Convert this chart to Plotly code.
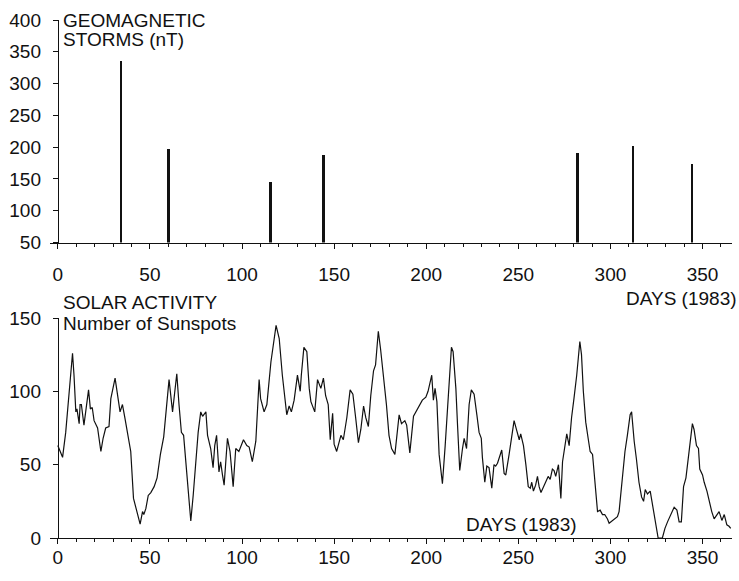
import plotly.graph_objects as go

# ---------------- data ----------------
storm_days = [34, 60, 115, 144, 282, 312, 344]
storm_nt = [335, 197, 145, 187, 191, 202, 174]

sun_days = [0, 2.6, 4.3, 6.2, 8.0, 8.8, 9.8, 10.4, 11.6, 12.1, 12.8, 14.2, 15.2, 16.7, 17.7,
            18.7, 19.7, 21.6, 23.4, 24.6, 26.0, 27.8, 28.8, 31.1, 33.8, 35.1, 36.4, 38.2,
            39.6, 41.1, 42.8, 44.7, 46.0, 46.7, 47.8, 49.1, 50.5, 52.3, 53.9, 55.7, 57.5,
            58.7, 60.4, 62.3, 64.6, 65.8, 67.1, 68.3, 69.5, 70.7, 72.2, 73.5, 74.9, 76.2,
            77.6, 78.6, 80.4, 81.3, 83.0, 84.3, 85.2, 86.2, 87.5, 88.4, 89.4, 90.3, 92.1,
            93.5, 95.2, 96.6, 98.3, 100.8, 102.6, 103.9, 105.6, 107.5, 109.3, 110.1, 112.0,
            113.5, 115.7, 118.5, 120.2, 121.9, 124.3, 125.6, 126.8, 128.3, 130.1, 131.6,
            132.2, 133.6, 135.2, 136.5, 137.4, 139.5, 141.0, 142.8, 144.2, 145.4, 146.8,
            147.9, 149.2, 150.0, 151.4, 153.7, 155.0, 156.9, 158.7, 160.2, 161.7, 163.2,
            164.5, 166.0, 167.2, 168.6, 169.9, 171.4, 172.5, 174.0, 175.2, 176.9, 178.4,
            179.8, 181.2, 183.0, 184.4, 185.3, 186.6, 188.4, 189.4, 191.1, 193.1, 196.1,
            197.9, 199.8, 201.0, 203.0, 203.9, 204.8, 205.8, 207.0, 208.8, 210.3, 211.6,
            213.7, 214.6, 216.1, 217.0, 218.2, 219.7, 220.6, 221.9, 223.3, 224.5, 226.0,
            227.5, 228.7, 229.9, 230.5, 231.8, 232.9, 234.1, 235.6, 236.8, 237.7, 238.7,
            241.0, 242.3, 243.2, 245.0, 246.2, 247.7, 249.2, 250.5, 251.3, 252.8, 254.1,
            255.4, 256.5, 257.3, 258.2, 259.4, 260.4, 261.3, 262.3, 264.0, 266.2, 267.3,
            268.5, 269.4, 270.3, 271.8, 273.1, 274.0, 275.2, 276.3, 277.6, 278.9, 280.2,
            281.7, 283.4, 284.3, 285.3, 286.6, 287.9, 289.0, 290.3, 291.6, 293.0, 294.4,
            295.7, 296.9, 298.4, 299.3, 301.1, 303.8, 304.7, 306.2, 307.9, 309.2, 310.7,
            311.5, 312.5, 312.9, 314.1, 315.5, 316.9, 318.0, 318.9, 320.1, 321.6, 322.8,
            323.8, 324.7, 325.9, 328.2, 329.6, 331.0, 332.8, 334.6, 336.1, 337.3, 338.5,
            339.7, 341.0, 342.2, 343.6, 344.5, 345.4, 346.7, 347.8, 348.5, 350.0, 350.9,
            352.4, 353.6, 355.0, 356.3, 357.7, 359.0, 360.5, 361.8, 363.2, 364.4, 365.3]

sun_counts = [63, 55, 72, 102, 126, 111, 86, 88, 78, 91, 91, 77, 86, 101, 88,
              89, 80, 75, 59, 68, 75, 76, 95, 109, 86, 91, 82, 70,
              59, 27, 18, 9.5, 18, 16, 20, 29, 31, 35, 41, 57, 69,
              86, 108, 86, 112, 91, 72, 70, 52, 32, 11.6, 29, 55, 72,
              86, 83, 86, 70, 61, 48, 63, 70, 45, 52, 43, 36, 68,
              59, 35, 61, 59, 67, 63, 62, 52, 66, 108, 95, 86,
              91, 120, 145, 136, 111, 84, 90, 86, 94, 111, 100,
              111, 130, 127, 102, 93, 86, 108, 102, 109, 97, 91,
              67, 85, 64, 59, 70, 67, 82, 101, 98, 82, 65,
              74, 90, 82, 76, 97, 114, 118, 141, 129, 111, 91,
              70, 61, 57, 72, 84, 78, 80, 77, 58, 83, 90,
              94, 96, 100, 111, 94, 102, 93, 57, 37, 63, 91,
              130, 127, 102, 77, 46, 61, 68, 61, 91, 101, 98,
              84, 72, 68, 55, 38, 49, 48, 34, 50, 49, 51,
              60, 44, 43, 57, 68, 80, 73, 67, 71, 63, 50,
              35, 34, 38, 32, 36, 42, 35, 31, 36, 42, 40,
              47, 46, 42, 50, 27, 52, 63, 71, 63, 82, 95,
              111, 134, 125, 100, 79, 68, 59, 57, 38, 18, 19,
              16, 16, 13, 10, 12, 14.5, 18, 38, 59, 70, 84,
              86, 68, 66, 54, 38, 28, 25, 33, 30, 32, 22.5,
              14.5, 10, 0, 0, 6.6, 11, 16, 21, 19, 11, 11,
              35, 41, 54, 70, 78, 74, 63, 61, 47, 43, 38,
              32, 25, 18, 13, 16, 18, 12, 16, 9, 8, 6.6]

x_ticks = [0, 50, 100, 150, 200, 250, 300, 350]
storm_ticks = [50, 100, 150, 200, 250, 300, 350, 400]
sun_ticks = [0, 50, 100, 150]

# ---------------- layout geometry (pixels) ----------------
W, H = 739, 581
PLOT_L, PLOT_R = 49.5, 732.0
X_MIN, X_MAX = -4.5, 366.0
px_per_day = (PLOT_R - PLOT_L) / (X_MAX - X_MIN)
yaxis_pos = (PLOT_L + (0 - X_MIN) * px_per_day) / W

TOP_Y0, TOP_Y1 = 20.0, 242.5     # pixel rows of 400 and 50
BOT_Y0, BOT_Y1 = 318.0, 538.0    # pixel rows of 150 and 0

FONT = "Liberation Sans, Arial, sans-serif"
INK = "#111111"
FS = 19

fig = go.Figure()
fig.add_trace(go.Bar(x=storm_days, y=storm_nt, width=1.5,
                     marker=dict(color=INK, line=dict(width=0)),
                     xaxis="x", yaxis="y", hoverinfo="x+y"))
fig.add_trace(go.Scatter(x=sun_days, y=sun_counts, mode="lines",
                         line=dict(color=INK, width=1.2),
                         xaxis="x2", yaxis="y2", hoverinfo="x+y"))

common_x = dict(range=[X_MIN, X_MAX], domain=[PLOT_L / W, PLOT_R / W],
                showline=True, linecolor=INK, linewidth=1.2, automargin=False,
                ticks="outside", ticklen=5, tickcolor=INK, tickwidth=1,
                tickvals=x_ticks, showgrid=False, zeroline=False,
                minor=dict(dtick=10, tick0=0, ticks="outside", ticklen=3,
                           tickcolor=INK, showgrid=False),
                tickfont=dict(family=FONT, size=FS, color=INK))
common_y = dict(anchor="free", position=yaxis_pos, showline=True, automargin=False,
                linecolor=INK, linewidth=1, ticks="outside", ticklen=5,
                tickcolor=INK, showgrid=False, zeroline=False,
                tickfont=dict(family=FONT, size=FS, color=INK),
                ticklabelstandoff=8)

fig.update_layout(
    width=W, height=H, autosize=False,
    margin=dict(l=0, r=0, t=0, b=0, pad=0),
    paper_bgcolor="white", plot_bgcolor="white",
    showlegend=False, bargap=0,
    font=dict(family=FONT, color=INK),
    xaxis=dict(common_x, anchor="y", ticklabelstandoff=10),
    yaxis=dict(common_y, range=[50, 400], tickvals=storm_ticks,
               domain=[(H - TOP_Y1) / H, (H - TOP_Y0) / H]),
    xaxis2=dict(common_x, anchor="y2", ticklabelstandoff=-3),
    yaxis2=dict(common_y, range=[0, 150], tickvals=sun_ticks,
                domain=[(H - BOT_Y1) / H, (H - BOT_Y0) / H]),
)

def label(text, x, y, xanchor="left"):
    fig.add_annotation(text=text, xref="paper", yref="paper",
                       x=x / W, y=1 - y / H, xanchor=xanchor, yanchor="middle",
                       showarrow=False, font=dict(family=FONT, size=FS, color=INK))

label("GEOMAGNETIC", 61, 20)
label("STORMS (nT)", 61, 40)
label("DAYS (1983)", 739, 298.5, xanchor="right")
label("SOLAR ACTIVITY", 61, 303)
label("Number of Sunspots", 61, 323)
label("DAYS (1983)", 579, 524.5, xanchor="right")

fig.write_html(
    "out.html",
    config={"responsive": False, "displayModeBar": False},
    post_script="document.body.style.margin='0';document.body.style.overflow='hidden';",
)
